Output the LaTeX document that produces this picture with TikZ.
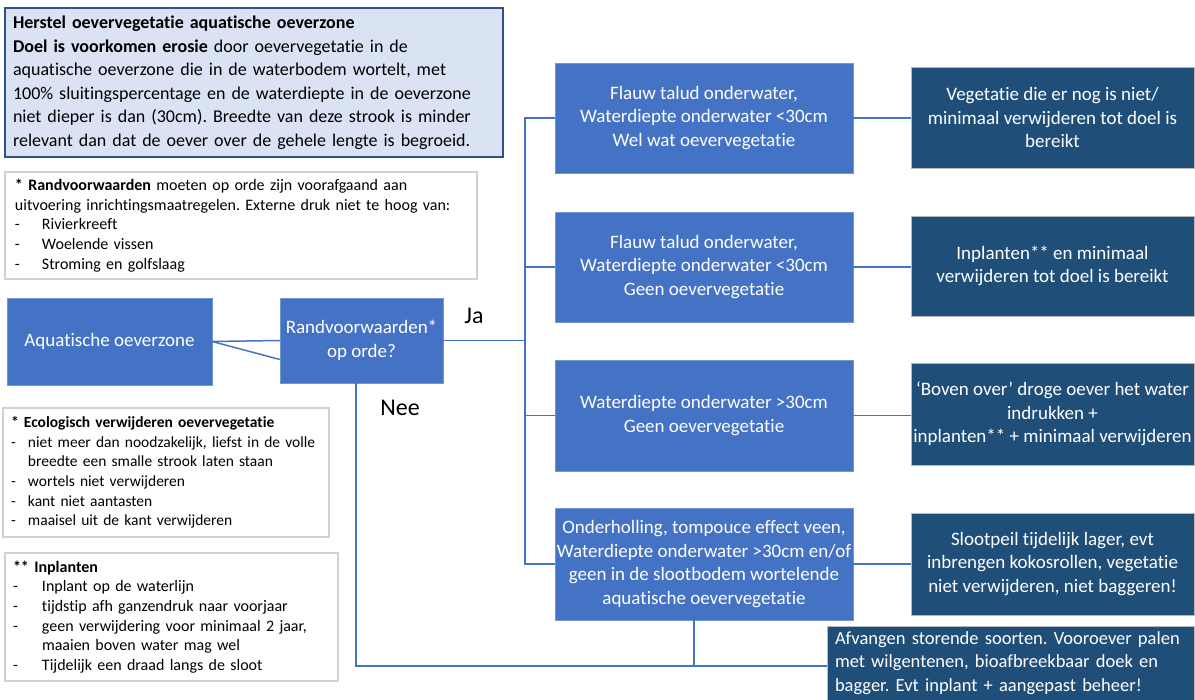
\documentclass[tikz,border=0pt]{standalone}
\usepackage{fontspec}
\setmainfont{Carlito}[Ligatures=NoCommon]
\frenchspacing
\definecolor{accent}{HTML}{4472C4}
\definecolor{donker}{HTML}{1F4E79}
\definecolor{lichtblauw}{HTML}{DAE3F3}
\definecolor{randblauw}{HTML}{2F528F}
\newcommand{\streep}[2]{\makebox[#1][l]{-}#2}
\begin{document}
\begin{tikzpicture}[x=1pt,y=-1pt,
	blok/.style={rectangle,fill=accent,draw=accent!75!white,text=white,align=center,inner sep=1pt,font=\fontsize{19}{23.5}\selectfont},
	donkerblok/.style={blok,fill=donker,draw=gray!55},
	kader/.style={rectangle,draw=gray!35,line width=1.2pt,align=left,inner xsep=10pt,font=\fontsize{16}{19.7}\selectfont},
	lijn/.style={draw=accent,line width=1.5pt}]
	    \useasboundingbox(0,0)rectangle(1195,700);

	    % linker kolom
	    \node[kader,fill=lichtblauw,draw=randblauw,inner xsep=8pt,minimum width=498pt,minimum height=149pt,text width=482pt,font=\fontsize{18}{23.5}\selectfont](doel)at(254,82.5){\textbf{Herstel oevervegetatie aquatische oeverzone}\\\textbf{Doel is voorkomen erosie} door oevervegetatie in de\\aquatische oeverzone die in de waterbodem wortelt, met\\100\% sluitingspercentage en de waterdiepte in de oeverzone\\niet dieper is dan (30cm). Breedte van deze strook is minder\\relevant dan dat de oever over de gehele lengte is begroeid.};
	    \node[kader,minimum width=472pt,minimum height=107pt,text width=452pt](rand)at(241,225.5){\textbf{* Randvoorwaarden} moeten op orde zijn voorafgaand aan\\uitvoering inrichtingsmaatregelen. Externe druk niet te hoog van:\\\streep{27pt}{Rivierkreeft}\\\streep{27pt}{Woelende vissen}\\\streep{27pt}{Stroming en golfslaag}};
	    \node[kader,inner xsep=8pt,minimum width=322pt,minimum height=129pt,text width=310pt,font=\fontsize{15.5}{19.6}\selectfont](eco)at(166,472.5){\textbf{* Ecologisch verwijderen oevervegetatie}\\\streep{17pt}{niet meer dan noodzakelijk, liefst in de volle}\\\hspace*{17pt}breedte een smalle strook laten staan\\\streep{17pt}{wortels niet verwijderen}\\\streep{17pt}{kant niet aantasten}\\\streep{17pt}{maaisel uit de kant verwijderen}};
	    \node[kader,inner xsep=8pt,minimum width=333pt,minimum height=128pt,text width=317pt](inpl)at(171.5,617){\textbf{** Inplanten}\\\streep{29pt}{Inplant op de waterlijn}\\\streep{29pt}{tijdstip afh ganzendruk naar voorjaar}\\\streep{29pt}{geen verwijdering voor minimaal 2 jaar,}\\\hspace*{29pt}maaien boven water mag wel\\\streep{29pt}{Tijdelijk een draad langs de sloot}};

	    \node[blok,minimum width=205pt,minimum height=87pt](A)at(109.5,341.5){Aquatische oeverzone};
	    \node[blok,minimum width=163pt,minimum height=85pt](R)at(361.5,340.5){Randvoorwaarden*\\op orde?};

	    % situaties
	    \node[blok,minimum width=298pt,minimum height=110pt](B1)at(704,118){Flauw talud onderwater,\\Waterdiepte onderwater <30cm\\Wel wat oevervegetatie};
	    \node[blok,minimum width=298pt,minimum height=110pt](B2)at(704,267){Flauw talud onderwater,\\Waterdiepte onderwater <30cm\\Geen oevervegetatie};
	    \node[blok,minimum width=298pt,minimum height=111pt](B3)at(704,415.5){Waterdiepte onderwater >30cm\\Geen oevervegetatie};
	    \node[blok,minimum width=298pt,minimum height=112pt](B4)at(704,564){Onderholling, tompouce effect veen,\\Waterdiepte onderwater >30cm en/of\\geen in de slootbodem wortelende\\aquatische oevervegetatie};

	    % maatregelen
	    \node[donkerblok,minimum width=283pt,minimum height=101pt](D1)at(1052.5,117.5){Vegetatie die er nog is niet/\\minimaal verwijderen tot doel is\\bereikt};
	    \node[donkerblok,minimum width=283pt,minimum height=100pt](D2)at(1052.5,266){Inplanten** en minimaal\\verwijderen tot doel is bereikt};
	    \node[donkerblok,minimum width=283pt,minimum height=102pt](D3)at(1052.5,414){‘Boven over’ droge oever het water\\indrukken +\\inplanten** + minimaal verwijderen};
	    \node[donkerblok,minimum width=283pt,minimum height=102pt](D4)at(1052.5,564){Slootpeil tijdelijk lager, evt\\inbrengen kokosrollen, vegetatie\\niet verwijderen, niet baggeren!};
	    \node[donkerblok,align=left,inner xsep=8pt,minimum width=367pt,minimum height=74pt,text width=351pt,font=\fontsize{18.5}{23.5}\selectfont](E)at(1010.5,663){Afvangen storende soorten. Vooroever palen\\met wilgentenen, bioafbreekbaar doek en\\bagger. Evt inplant + aangepast beheer!};

	    \coordinate(J)at(525,340.5);
	    \coordinate(N)at(356,666);
	    \coordinate(K)at(694,666);

	    \draw[lijn](A.east)--(R.west);
	    \draw[lijn](A.east)--([yshift=-19pt]R.west);
	    \draw[lijn](R.east)--(J);
	    \draw[lijn](B1.west)-|(J)|-(B4.west);
	    \draw[lijn](B2.west)--(B2.west-|J);
	    \draw[lijn](B3.west)--(B3.west-|J);
	    \foreach \i in {1,...,4}
	        \draw[lijn](B\i.east)--(B\i.east-|D\i.west);
	    \draw[lijn](N|-R.south)--(N)--(K)--(K-|E.west);
	    \draw[lijn](K)--(K|-B4.south);

	    \node[font=\fontsize{24}{28}\selectfont](ja)at(474,316){Ja};
	    \node[font=\fontsize{24}{28}\selectfont](nee)at(400,408){Nee};
\end{tikzpicture}
\end{document}
